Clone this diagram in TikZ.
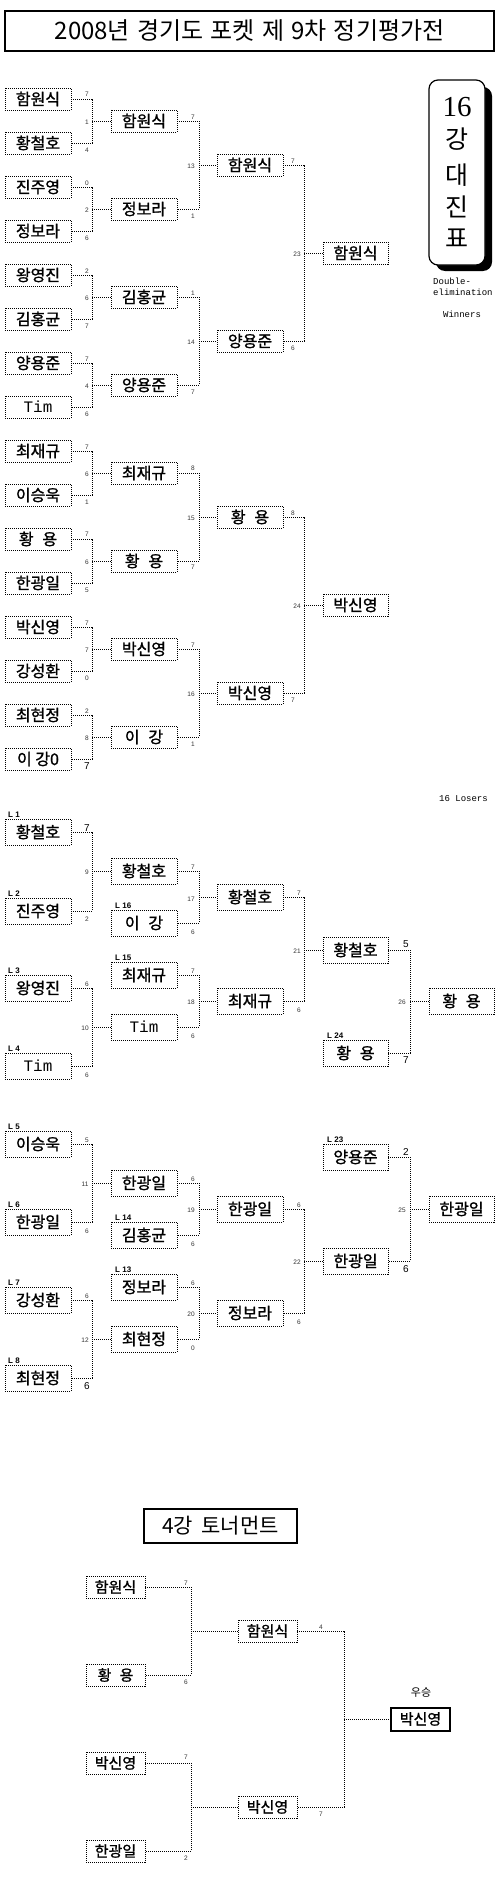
\documentclass[tikz,border=0pt]{standalone}
\usepackage{fontspec}
\newfontfamily\kr{Noto Sans CJK KR}
\newfontfamily\krb[FakeBold=1.2]{Noto Sans CJK KR}
\newfontfamily\mono{Liberation Mono}
\newfontfamily\arial{Liberation Sans}
\newfontfamily\serifd{Liberation Serif}
\newcounter{scn}
\newcommand\sco[3]{\stepcounter{scn}\node[sc] (s\arabic{scn}) at (#1,#2) {#3};}
\newcommand\scL[3]{\stepcounter{scn}\node[scl] (s\arabic{scn}) at (#1,#2) {#3};}
\newcommand\mt[5]{%
  \coordinate (#5) at (#4,0 |- #3.west);
  \draw[conn] (#1.east) -| (#5) |- (#2.east);
  \draw[conn] (#5) -- (#3.west);}
\newcommand\hy{황\hspace{0.55em}용}
\newcommand\ig{이\hspace{0.55em}강}
\newcommand\tim{{\mono Tim}}
\begin{document}
\begin{tikzpicture}[x=1pt,y=-1pt,
 box/.style={draw, line width=0.9pt, dash pattern=on 1pt off 1pt, minimum width=66pt, minimum height=22pt, inner sep=0pt, font=\krb\fontsize{16}{16}\selectfont, fill=white},
 lbox/.style={box, minimum height=26pt},
 fbox/.style={box, minimum width=59pt, minimum height=22pt, font=\krb\fontsize{15}{15}\selectfont},
 conn/.style={line width=0.9pt, dash pattern=on 1pt off 1pt},
 sc/.style={font=\arial\fontsize{6.5}{6.5}\selectfont, text=black!80, inner sep=0pt},
 scl/.style={font=\arial\fontsize{10}{10}\selectfont, inner sep=0pt},
 lab/.style={font=\arial\bfseries\fontsize{8}{8}\selectfont, anchor=south west, inner sep=0pt},
 note/.style={font=\mono\fontsize{9}{9}\selectfont, inner sep=0pt}]
\useasboundingbox[fill=white] (0,0) rectangle (500,1881);

% title
\node[draw, line width=2pt, minimum width=489pt, minimum height=40pt, inner sep=0pt,
  font=\kr\fontsize{24}{24}\selectfont] (title) at (249.5,31)
  {2008년\hspace{0.3em}경기도\hspace{0.3em}포켓\hspace{0.3em}제\hspace{0.3em}9차\hspace{0.3em}정기평가전};

% 16강 대진표 badge
\fill[black, rounded corners=9pt] (436,87) rectangle (492,271);
\draw[line width=1.2pt, fill=white, rounded corners=9pt] (429,80) rectangle (485,265);
\node[font=\serifd\fontsize{29}{29}\selectfont, inner sep=0pt] (t16) at (457,107) {16};
\node[font=\kr\fontsize{25}{25}\selectfont, inner sep=0pt] (tk1) at (457,139) {강};
\node[font=\kr\fontsize{25}{25}\selectfont, inner sep=0pt] (tk2) at (457,175) {대};
\node[font=\kr\fontsize{25}{25}\selectfont, inner sep=0pt] (tk3) at (457,207) {진};
\node[font=\kr\fontsize{25}{25}\selectfont, inner sep=0pt] (tk4) at (457,238) {표};
\node[note, anchor=west] (n1) at (433,281) {Double-};
\node[note, anchor=west] (n2) at (433,292) {elimination};
\node[note] (n3) at (462,314) {Winners};
\node[note, anchor=east] (n4) at (488,799) {16 Losers};

% ===== Winners bracket =====
\node[box] (w1) at (38,99) {함원식};
\node[box] (w2) at (38,143) {황철호};
\node[box] (w3) at (38,187) {진주영};
\node[box] (w4) at (38,231) {정보라};
\node[box] (w5) at (38,275) {왕영진};
\node[box] (w6) at (38,319) {김홍균};
\node[box] (w7) at (38,363) {양용준};
\node[box] (w8) at (38,407) {\tim};
\node[box] (w9) at (38,451) {최재규};
\node[box] (w10) at (38,495) {이승욱};
\node[box] (w11) at (38,539) {\hy};
\node[box] (w12) at (38,583) {한광일};
\node[box] (w13) at (38,627) {박신영};
\node[box] (w14) at (38,671) {강성환};
\node[box] (w15) at (38,715) {최현정};
\node[box] (w16) at (38,759) {이 강0};

\node[box] (a1) at (144,121) {함원식};
\node[box] (a2) at (144,209) {정보라};
\node[box] (a3) at (144,297) {김홍균};
\node[box] (a4) at (144,385) {양용준};
\node[box] (a5) at (144,473) {최재규};
\node[box] (a6) at (144,561) {\hy};
\node[box] (a7) at (144,649) {박신영};
\node[box] (a8) at (144,737) {\ig};

\node[box] (b1) at (250,165) {함원식};
\node[box] (b2) at (250,341) {양용준};
\node[box] (b3) at (250,517) {\hy};
\node[box] (b4) at (250,693) {박신영};

\node[box, minimum width=65pt] (c1) at (355.5,253) {함원식};
\node[box, minimum width=65pt] (c2) at (355.5,605) {박신영};

\mt{w1}{w2}{a1}{92}{j1}
\mt{w3}{w4}{a2}{92}{j2}
\mt{w5}{w6}{a3}{92}{j3}
\mt{w7}{w8}{a4}{92}{j4}
\mt{w9}{w10}{a5}{92}{j5}
\mt{w11}{w12}{a6}{92}{j6}
\mt{w13}{w14}{a7}{92}{j7}
\mt{w15}{w16}{a8}{92}{j8}
\mt{a1}{a2}{b1}{199}{j9}
\mt{a3}{a4}{b2}{199}{j10}
\mt{a5}{a6}{b3}{199}{j11}
\mt{a7}{a8}{b4}{199}{j12}
\mt{b1}{b2}{c1}{304}{j13}
\mt{b3}{b4}{c2}{304}{j14}

% winners scores
\sco{87}{94}{7}\sco{87}{122}{1}\sco{87}{150}{4}
\sco{87}{183}{0}\sco{87}{210}{2}\sco{87}{238}{6}
\sco{87}{271}{2}\sco{87}{298}{6}\sco{87}{326}{7}
\sco{87}{359}{7}\sco{87}{386}{4}\sco{87}{414}{6}
\sco{87}{447}{7}\sco{87}{474}{6}\sco{87}{502}{1}
\sco{87}{534}{7}\sco{87}{562}{6}\sco{87}{590}{5}
\sco{87}{623}{7}\sco{87}{650}{7}\sco{87}{678}{0}
\sco{87}{711}{2}\sco{87}{738}{8}\scL{87}{766}{7}
\sco{193}{117}{7}\sco{191}{166}{13}\sco{193}{216}{1}
\sco{193}{293}{1}\sco{191}{342}{14}\sco{193}{392}{7}
\sco{193}{468}{8}\sco{191}{518}{15}\sco{193}{567}{7}
\sco{193}{645}{7}\sco{191}{694}{16}\sco{193}{744}{1}
\sco{293}{161}{7}\sco{297}{254}{23}\sco{293}{348}{6}
\sco{293}{513}{8}\sco{297}{606}{24}\sco{293}{700}{7}

% ===== Losers bracket =====
\node[lbox] (l1) at (38,832) {황철호};
\node[lbox] (l2) at (38,911) {진주영};
\node[lbox] (l3) at (38,988) {왕영진};
\node[lbox] (l4) at (38,1066) {\tim};
\node[lbox] (l5) at (38,1144) {이승욱};
\node[lbox] (l6) at (38,1222) {한광일};
\node[lbox] (l7) at (38,1300) {강성환};
\node[lbox] (l8) at (38,1378) {최현정};

\node[lbox] (m1) at (144,871) {황철호};
\node[lbox] (l16) at (144,923) {\ig};
\node[lbox] (l15) at (144,975) {최재규};
\node[lbox] (m2) at (144,1027) {\tim};
\node[lbox] (m3) at (144,1183) {한광일};
\node[lbox] (l14) at (144,1235) {김홍균};
\node[lbox] (l13) at (144,1287) {정보라};
\node[lbox] (m4) at (144,1339) {최현정};

\node[lbox] (k1) at (250,897) {황철호};
\node[lbox] (k2) at (250,1001) {최재규};
\node[lbox] (k3) at (250,1209) {한광일};
\node[lbox] (k4) at (250,1313) {정보라};

\node[lbox, minimum width=65pt] (p1) at (355.5,950) {황철호};
\node[lbox, minimum width=65pt] (l24) at (355.5,1053) {\hy};
\node[lbox, minimum width=65pt] (l23) at (355.5,1157) {양용준};
\node[lbox, minimum width=65pt] (p2) at (355.5,1261) {한광일};

\node[lbox, minimum width=65pt] (q1) at (461.5,1001) {\hy};
\node[lbox, minimum width=65pt] (q2) at (461.5,1209) {한광일};

% labels
\node[lab] (ll1) at (8,818) {L 1};
\node[lab] (ll2) at (8,897) {L 2};
\node[lab] (ll3) at (8,974) {L 3};
\node[lab] (ll4) at (8,1052) {L 4};
\node[lab] (ll5) at (8,1130) {L 5};
\node[lab] (ll6) at (8,1208) {L 6};
\node[lab] (ll7) at (8,1286) {L 7};
\node[lab] (ll8) at (8,1364) {L 8};
\node[lab] (ll16) at (115,909) {L 16};
\node[lab] (ll15) at (115,961) {L 15};
\node[lab] (ll14) at (115,1221) {L 14};
\node[lab] (ll13) at (115,1273) {L 13};
\node[lab] (ll24) at (327,1039) {L 24};
\node[lab] (ll23) at (327,1143) {L 23};

\mt{l1}{l2}{m1}{92}{i1}
\mt{l3}{l4}{m2}{92}{i2}
\mt{l5}{l6}{m3}{92}{i3}
\mt{l7}{l8}{m4}{92}{i4}
\mt{m1}{l16}{k1}{199}{i5}
\mt{l15}{m2}{k2}{199}{i6}
\mt{m3}{l14}{k3}{199}{i7}
\mt{l13}{m4}{k4}{199}{i8}
\mt{k1}{k2}{p1}{304}{i9}
\mt{k3}{k4}{p2}{304}{i10}
\mt{p1}{l24}{q1}{410}{i11}
\mt{l23}{p2}{q2}{410}{i12}

% losers scores
\scL{87}{828}{7}\sco{87}{872}{9}\sco{87}{919}{2}
\sco{87}{984}{6}\sco{85}{1028}{10}\sco{87}{1075}{6}
\sco{193}{867}{7}\sco{191}{899}{17}\sco{193}{932}{6}
\sco{193}{971}{7}\sco{191}{1002}{18}\sco{193}{1036}{6}
\sco{299}{893}{7}\sco{297}{951}{21}\sco{299}{1010}{6}
\scL{406}{944}{5}\sco{402}{1002}{26}\scL{406}{1060}{7}
\sco{87}{1140}{5}\sco{85}{1184}{11}\sco{87}{1231}{6}
\sco{193}{1179}{6}\sco{191}{1210}{19}\sco{193}{1244}{6}
\sco{87}{1296}{6}\sco{85}{1340}{12}\scL{87}{1386}{6}
\sco{193}{1283}{6}\sco{191}{1314}{20}\sco{193}{1348}{0}
\sco{299}{1205}{6}\sco{297}{1262}{22}\sco{299}{1322}{6}
\scL{406}{1152}{2}\sco{402}{1210}{25}\scL{406}{1269}{6}

% ===== 4강 =====
\node[draw, line width=2pt, minimum width=153pt, minimum height=34pt, inner sep=0pt,
  font=\kr\fontsize{21}{21}\selectfont] (t4) at (220.5,1526) {4강\hspace{0.4em}토너먼트};

\node[fbox] (f1) at (115.5,1587) {함원식};
\node[fbox] (f2) at (115.5,1675) {\hy};
\node[fbox] (f3) at (115.5,1763) {박신영};
\node[fbox] (f4) at (115.5,1851) {한광일};
\node[fbox] (g1) at (267.5,1631) {함원식};
\node[fbox] (g2) at (267.5,1807) {박신영};
\node[draw, line width=2pt, minimum width=59pt, minimum height=23pt, inner sep=0pt,
  font=\krb\fontsize{15}{15}\selectfont] (champ) at (420.5,1719) {박신영};
\node[font=\kr\fontsize{11}{11}\selectfont, inner sep=0pt] (win) at (421,1692) {우승};

\mt{f1}{f2}{g1}{191}{h1}
\mt{f3}{f4}{g2}{191}{h2}
\mt{g1}{g2}{champ}{344}{h3}

\sco{186}{1583}{7}\sco{186}{1682}{6}
\sco{186}{1757}{7}\sco{186}{1858}{2}
\sco{321}{1627}{4}\sco{321}{1814}{7}
\end{tikzpicture}
\end{document}
